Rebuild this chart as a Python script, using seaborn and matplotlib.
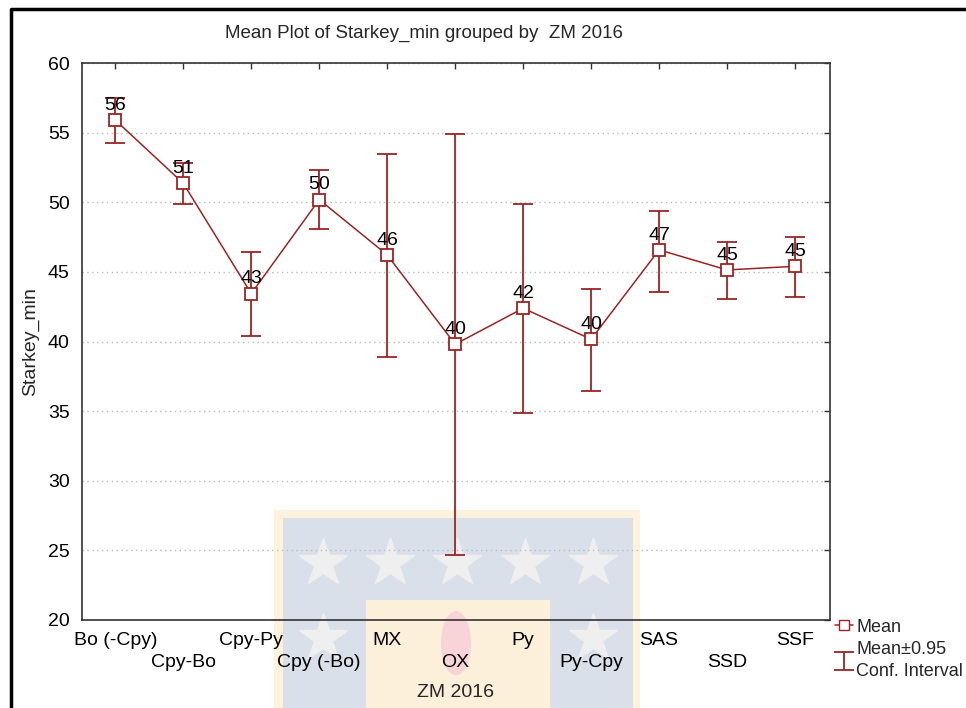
import numpy as np
import pandas as pd
import seaborn as sns
import matplotlib.pyplot as plt
from matplotlib.lines import Line2D
from matplotlib.patches import Rectangle, Ellipse

# data
groups = ['Bo (-Cpy)', 'Cpy-Bo', 'Cpy-Py', 'Cpy (-Bo)', 'MX', 'OX',
          'Py', 'Py-Cpy', 'SAS', 'SSD', 'SSF']
means = [55.9, 51.36, 43.44, 50.19, 46.22, 39.8, 42.39, 40.16, 46.58, 45.14, 45.4]
ci_low = [54.28, 49.9, 40.38, 48.1, 38.87, 24.68, 34.87, 36.45, 43.56, 43.06, 43.2]
ci_high = [57.5, 52.8, 46.43, 52.3, 53.47, 54.88, 49.88, 43.75, 49.35, 47.15, 47.49]

df = pd.DataFrame({'pos': np.arange(len(groups)), 'group': groups,
                   'mean': means, 'lo': ci_low, 'hi': ci_high})

sns.set_style('white')
plt.rcParams['font.family'] = ['Liberation Sans', 'DejaVu Sans']

red = '#9a2424'

fig = plt.figure(figsize=(9.66, 7.08), dpi=100)
ax = fig.add_axes([0.0849, 0.1243, 0.774, 0.7867])
ax.set_facecolor('none')

# faint watermark behind the plot
wm = dict(transform=fig.transFigure, zorder=-5, lw=0)
fig.add_artist(Rectangle((274/966, 0), 366/966, 198/708, color='#fdf2de', **wm))
fig.add_artist(Rectangle((283/966, 0), 350/966, 190/708, color='#d9e0ea', **wm))
fig.add_artist(Rectangle((366/966, 0), 184/966, 108/708, color='#fdf0da', **wm))
fig.add_artist(Ellipse((456/966, 65/708), 30/966, 64/708, color='#f8d3d8', **wm))
for sx in [323, 390, 457, 525, 593]:
    fig.add_artist(Line2D([sx/966], [145/708], marker='*', markersize=36,
                          color='#efefef', lw=0, transform=fig.transFigure, zorder=-4))
for sx in [323, 593]:
    fig.add_artist(Line2D([sx/966], [70/708], marker='*', markersize=36,
                          color='#efefef', lw=0, transform=fig.transFigure, zorder=-4))

# error bars (CI)
eb = ax.errorbar(df['pos'], df['mean'],
                 yerr=[df['mean'] - df['lo'], df['hi'] - df['mean']],
                 fmt='none', ecolor=red, elinewidth=1.3, capsize=7, capthick=1.3, zorder=2)

# means
sns.lineplot(data=df, x='pos', y='mean', sort=False, color=red, lw=1.1,
             marker='s', markersize=8, markerfacecolor='white',
             markeredgecolor=red, markeredgewidth=1.3, ax=ax, zorder=3)

for x, m in zip(df['pos'], df['mean']):
    ax.annotate(f'{m:.0f}', (x, m), xytext=(0, 4.5), textcoords='offset points',
                ha='center', va='bottom', fontsize=14, color='black', zorder=4)

ax.set_xlim(-0.49, 10.51)
ax.set_ylim(20, 60)
ax.set_yticks(range(20, 61, 5))
ax.set_xticks(df['pos'])
ax.set_xticklabels([g if i % 2 == 0 else '\n' + g for i, g in enumerate(groups)],
                   linespacing=1.35)
ax.tick_params(axis='both', direction='in', length=4, width=1, labelsize=14,
               top=True, right=True, colors='#333333', labelcolor='black')
ax.tick_params(axis='x', pad=9)
ax.tick_params(axis='y', pad=9)
ax.grid(axis='y', ls=(0, (1, 2.5)), color='#bbbbbb', lw=1)
for s in ax.spines.values():
    s.set_color('#333333')
    s.set_linewidth(1.2)

ax.set_xlabel('ZM 2016', fontsize=14, labelpad=9)
ax.set_ylabel('Starkey_min', fontsize=14, labelpad=6)
fig.text(0.439, 0.953, 'Mean Plot of Starkey_min grouped by  ZM 2016',
         ha='center', va='center', fontsize=13.5)

# legend outside bottom right
h_mean = Line2D([], [], color=red, lw=1.1, marker='s', markersize=7,
                markerfacecolor='white', markeredgecolor=red)
leg = fig.legend([h_mean, eb], ['Mean', 'Mean±0.95\nConf. Interval'],
                 loc='upper left', bbox_to_anchor=(0.864, 0.126), frameon=False,
                 fontsize=13, handlelength=1.0, handletextpad=0.2, labelspacing=0.3,
                 borderaxespad=0, borderpad=0)
for t in leg.get_texts():
    t.set_linespacing(1.4)

# outer frame (top and left edges)
fig.add_artist(Line2D([11/966, 11/966, 1], [0, 1 - 9/708, 1 - 9/708],
                      color='black', lw=2.5, transform=fig.transFigure))

fig.savefig('out.png', dpi=100)
